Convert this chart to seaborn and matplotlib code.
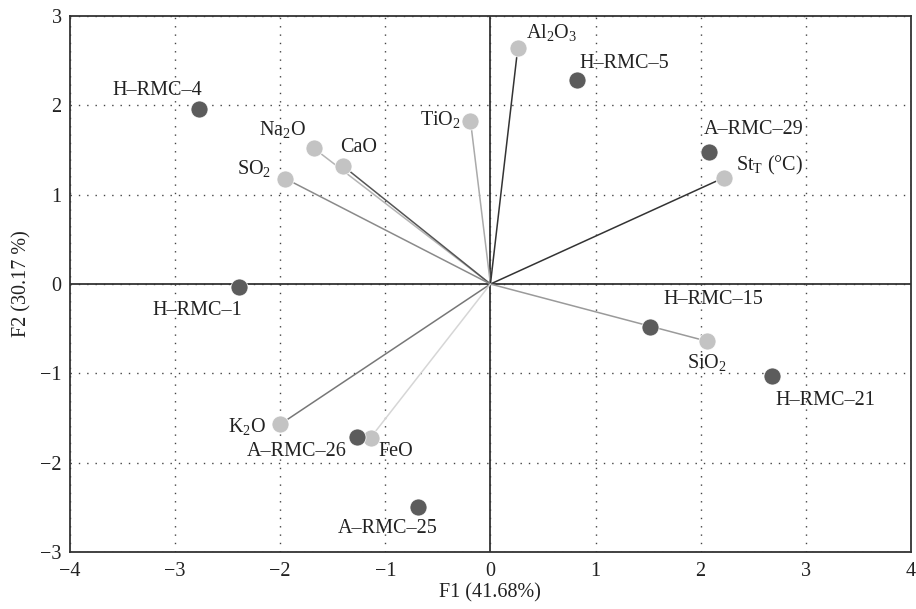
import numpy as np
import pandas as pd
import seaborn as sns
import matplotlib.pyplot as plt

# Observations (samples)
obs_names = ['H–RMC–4', 'H–RMC–5', 'A–RMC–29', 'H–RMC–1', 'H–RMC–15',
             'H–RMC–21', 'A–RMC–26', 'A–RMC–25']
obs_f1 = [-2.77, 0.82, 2.08, -2.39, 1.52, 2.68, -1.27, -0.69]
obs_f2 = [1.96, 2.28, 1.48, -0.03, -0.48, -1.03, -1.71, -2.50]

# Variables (loadings)
var_names = [r'Na$_\mathregular{2}$O', 'CaO', r'SO$_\mathregular{2}$', r'TiO$_\mathregular{2}$',
             r'Al$_\mathregular{2}$O$_\mathregular{3}$', r'St$_\mathregular{T}$ (°C)',
             r'SiO$_\mathregular{2}$', r'K$_\mathregular{2}$O', 'FeO']
var_f1 = [-1.68, -1.40, -1.95, -0.19, 0.26, 2.22, 2.06, -2.00, -1.14]
var_f2 = [1.52, 1.32, 1.18, 1.83, 2.64, 1.19, -0.64, -1.57, -1.72]

obs = pd.DataFrame({'F1': obs_f1, 'F2': obs_f2, 'name': obs_names})
var = pd.DataFrame({'F1': var_f1, 'F2': var_f2, 'name': var_names})

# line colour of each loading vector
vec_colors = ['#b4b4b4', '#555555', '#8a8a8a', '#aaaaaa', '#333333', '#333333',
              '#9a9a9a', '#777777', '#d6d6d6']

# label offsets in pixels (dx, dy; dy up)
obs_off = [(-42, 18), (48, 17), (45, 22), (-42, -24), (63, 27), (53, -24), (-60, -15), (-30, -21)]
var_off = [(-31, 18), (15, 19), (-31, 9), (-30, 0), (34, 15), (46, 12), (0, -22), (-33, -3), (25, -14)]

sns.set_style('white')
plt.rcParams['font.family'] = ['Liberation Serif', 'DejaVu Serif']
plt.rcParams['mathtext.fontset'] = 'custom'
plt.rcParams['mathtext.rm'] = 'Liberation Serif'

fs = 14.5

fig = plt.figure(figsize=(9.16, 6.09), dpi=100)
ax = fig.add_axes([0.0764, 0.0936, 0.918, 0.880])

ax.set_xlim(-4, 4)
ax.set_ylim(-3, 3)
ax.set_xticks(range(-4, 5))
ax.set_yticks(range(-3, 4))
ax.grid(True, linestyle=(0, (1, 5)), color='#444444', linewidth=1.0)
ax.axhline(0, color='#333333', lw=1.3, zorder=1)
ax.axvline(0, color='#333333', lw=1.3, zorder=1)

for x, y, c in zip(var_f1, var_f2, vec_colors):
    ax.plot([0, x], [0, y], color=c, lw=1.1, zorder=2)

sns.scatterplot(data=var, x='F1', y='F2', color='#c3c3c3', s=150,
                edgecolor='white', linewidth=0.5, ax=ax, zorder=3)
sns.scatterplot(data=obs, x='F1', y='F2', color='#5c5c5c', s=150,
                edgecolor='white', linewidth=0.5, ax=ax, zorder=3)

for (x, y, n), (dx, dy) in zip(zip(obs_f1, obs_f2, obs_names), obs_off):
    ax.annotate(n, (x, y), xytext=(dx, dy), textcoords='offset pixels',
                ha='center', va='center', fontsize=fs, color='#222222')
for (x, y, n), (dx, dy) in zip(zip(var_f1, var_f2, var_names), var_off):
    ax.annotate(n, (x, y), xytext=(dx, dy), textcoords='offset pixels',
                ha='center', va='center', fontsize=fs, color='#222222')

for s in ax.spines.values():
    s.set_color('#333333')
    s.set_linewidth(1.3)
ax.tick_params(length=0, labelsize=fs, colors='#222222')
ax.tick_params(axis='x', pad=7)
ax.tick_params(axis='y', pad=6)
ax.set_xlabel('F1 (41.68%)', fontsize=fs, color='#222222', labelpad=2)
ax.set_ylabel('F2 (30.17 %)', fontsize=fs, color='#222222', labelpad=6)

fig.savefig('out.png', dpi=100)
